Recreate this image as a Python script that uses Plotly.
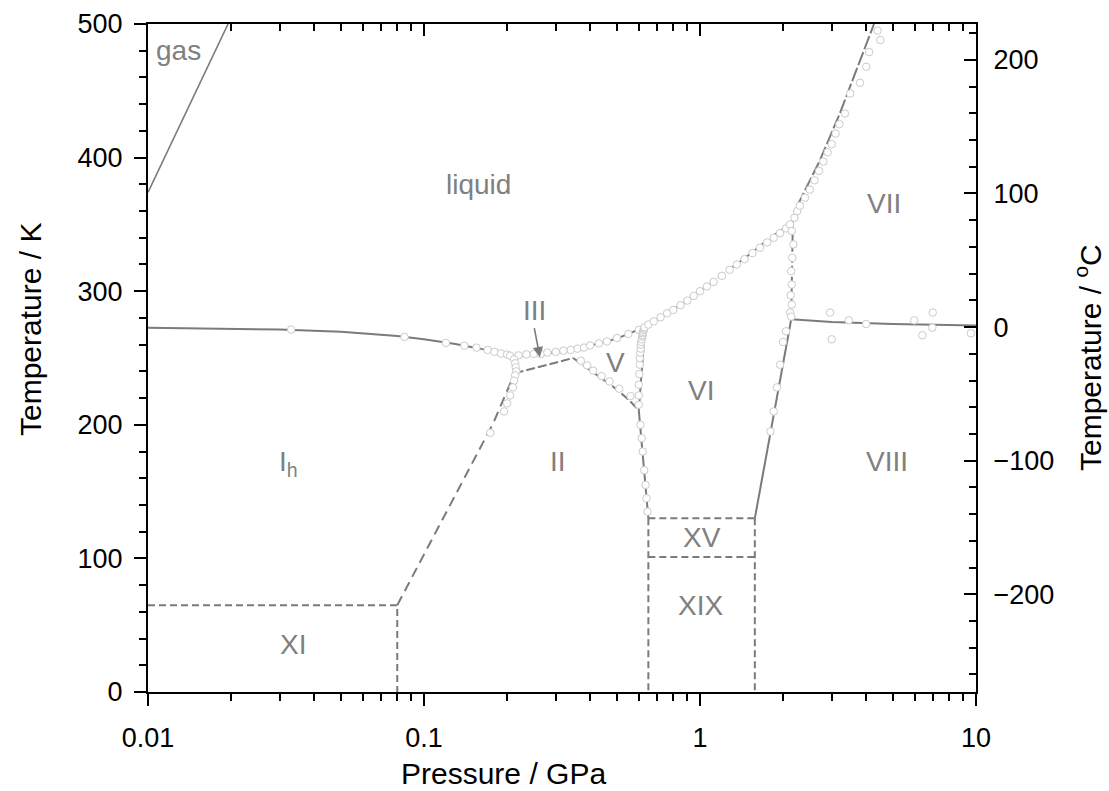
import numpy as np
import plotly.graph_objects as go

# ---------------- phase boundary lines (P in GPa, T in K) ----------------
gas_P = [0.01, 0.0195]
gas_T = [374, 500]

ih_liq_P = [0.01, 0.03, 0.05, 0.08, 0.1, 0.13, 0.16, 0.19, 0.2099]
ih_liq_T = [272.7, 271.3, 269.6, 266.5, 264.0, 260.5, 257.0, 253.5, 251.2]

iii_liq_P = [0.2099, 0.25, 0.3, 0.3501]
iii_liq_T = [251.2, 252.6, 254.3, 256.2]

v_liq_P = [0.3501, 0.4, 0.5, 0.6324]
v_liq_T = [256.2, 259.2, 264.5, 273.3]

vi_liq_P = [0.6324, 0.8, 1.0, 1.25, 1.5, 1.8, 2.17]
vi_liq_T = [273.3, 286, 300, 315, 327, 340, 352]

vii_liq_P = [2.17, 2.24, 2.72, 3.21, 4.27]
vii_liq_T = [352, 363, 398, 433, 500]

vi_vii_P = [2.17, 2.14]
vi_vii_T = [352, 279]

vii_viii_P = [2.14, 3.0, 5.0, 10.0]
vii_viii_T = [279, 277, 275.5, 274.4]

vi_viii_P = [2.14, 1.58]
vi_viii_T = [279, 130]

ih_iii_P = [0.2099, 0.213]
ih_iii_T = [251.2, 238.5]

ii_iii_P = [0.213, 0.347]
ii_iii_T = [238.5, 250.0]

ii_v_P = [0.347, 0.40, 0.434, 0.485, 0.55, 0.60]
ii_v_T = [250.0, 241.0, 236.0, 228.5, 219.0, 211.0]

v_vi_P = [0.60, 0.6324]
v_vi_T = [211.0, 273.3]

ii_vi_P = [0.60, 0.65]
ii_vi_T = [211.0, 130.0]

ih_ii_P = [0.08, 0.178, 0.213]
ih_ii_T = [65, 201, 238.5]

xi_P = [0.01, 0.08, 0.08]
xi_T = [65, 65, 0]

xv_top_P = [0.65, 1.58]
xv_top_T = [130, 130]
xv_mid_P = [0.65, 1.58]
xv_mid_T = [101, 101]
xv_left_P = [0.65, 0.65]
xv_left_T = [130, 0]
xv_right_P = [1.58, 1.58]
xv_right_T = [130, 0]

# ---------------- experimental points (open circles) ----------------
exp_P = [
    0.033, 0.085, 0.12, 0.14, 0.155, 0.17, 0.18, 0.19, 0.2, 0.205,
    0.22, 0.235, 0.25, 0.265, 0.28, 0.30, 0.32, 0.34,
    0.36, 0.38, 0.40, 0.43, 0.46, 0.50, 0.55, 0.60,
    0.37, 0.39, 0.41, 0.44, 0.47, 0.51, 0.56,
    0.60, 0.60, 0.60, 0.603, 0.605, 0.605, 0.607, 0.61, 0.61, 0.612, 0.615,
    0.618, 0.62, 0.62, 0.622, 0.625, 0.627, 0.63,
    0.608, 0.615, 0.62, 0.628, 0.635, 0.64, 0.645,
    0.65, 0.68, 0.72, 0.76, 0.80, 0.85, 0.90, 0.95, 1.0, 1.06, 1.12, 1.2,
    1.28, 1.36, 1.45, 1.55, 1.65, 1.75, 1.85, 1.95, 2.05, 2.12,
    2.2, 2.25, 2.3, 2.4, 2.5, 2.6, 2.7, 2.8, 2.9, 3.0, 3.1, 3.2, 3.35,
    3.5, 3.8, 4.0, 4.1, 4.4, 4.5,
    2.15, 2.18, 2.16, 2.14, 2.15, 2.13, 2.15, 2.12, 2.14,
    2.05, 2.0, 1.95, 1.9, 1.85, 1.8,
    2.96, 3.0, 3.46, 4.0, 5.97, 6.97, 6.39, 6.95, 9.58,
    0.212, 0.214, 0.215, 0.216, 0.214, 0.212, 0.21, 0.205, 0.2, 0.195, 0.174,
]
exp_T = [
    271.3, 265.8, 261.3, 259.2, 257.8, 256.0, 254.6, 253.4, 252.6, 251.8,
    252.0, 252.7, 253.1, 253.0, 254.1, 254.6, 255.5, 256.0,
    257.0, 257.8, 259.4, 261.0, 262.4, 265.0, 268.0, 271.0,
    248.0, 244.5, 240.5, 236.5, 232.5, 227.0, 221.5,
    215, 222, 230, 238, 245, 250, 254, 257, 260, 262, 264,
    266, 267, 268.5, 269.5, 271, 272, 273,
    200, 190, 180, 166, 155, 145, 135,
    275, 277.5, 280.5, 283.5, 286, 289.5, 293, 296.5, 300, 303.5, 307, 311.5,
    316, 320, 324, 328.5, 332.5, 336.5, 340, 343.5, 347, 350,
    355, 360, 364, 370, 376, 383, 390, 397, 404, 410, 418, 425, 433,
    448, 456, 468, 479, 495, 488,
    345, 335, 325, 315, 305, 297, 290, 284, 281,
    270, 262, 245, 228, 210, 195,
    284, 264, 278.2, 275.4, 278.2, 284, 267, 272.7, 268.5,
    249, 246, 243, 240, 237, 233, 228, 222, 216, 210, 194,
]

# ---------------- labels ----------------
label_text = ["gas", "liquid", "III", "V", "VI", "VII", "I<sub>h</sub>", "II",
              "VIII", "XV", "XIX", "XI"]
label_P = [0.01285, 0.158, 0.2504, 0.496, 1.008, 4.64, 0.0324, 0.306,
           4.76, 1.017, 1.008, 0.0335]
label_T = [480.5, 380.2, 285.9, 247, 226, 366, 171.4, 172.9,
           172.9, 115.3, 65.1, 35.2]

arrow_tip = (0.263, 250.5)
arrow_tail = (0.2504, 273.5)

x_ticks = [0.01, 0.1, 1, 10]
x_ticktext = ["0.01", "0.1", "1", "10"]
x_minor = [m * 10.0 ** e for e in (-2, -1, 0) for m in range(2, 10)]

x_title = "Pressure / GPa"
y_title = "Temperature / K"
y2_title = "Temperature / <sup>o</sup>C"

LINE = "#7b7b7b"
TEXT = "#808080"
FONT = "Liberation Sans, Arial, sans-serif"
DASH = "7px,4px"

# plot-area geometry (pixels) used to place the axis titles
L, R, TOP, BOT = 148, 976, 24, 692

fig = go.Figure()


def add_line(P, T, dash="solid", width=2.0):
    fig.add_trace(go.Scatter(x=P, y=T, mode="lines",
                             line=dict(color=LINE, width=width, dash=dash),
                             showlegend=False, hoverinfo="skip"))


add_line(gas_P, gas_T, width=1.6)
add_line(ih_liq_P, ih_liq_T)
add_line(iii_liq_P, iii_liq_T)
add_line(v_liq_P, v_liq_T)
add_line(vi_liq_P, vi_liq_T, dash="8px,3px")
add_line(vii_liq_P, vii_liq_T, dash="14px,3px")
add_line(vi_vii_P, vi_vii_T, dash="8px,3px")
add_line(vii_viii_P, vii_viii_T)
add_line(vi_viii_P, vi_viii_T)
add_line(ih_iii_P, ih_iii_T)
add_line(ii_iii_P, ii_iii_T, dash="9px,3px")
add_line(ii_v_P, ii_v_T, dash="9px,3px")
add_line(v_vi_P, v_vi_T)
add_line(ii_vi_P, ii_vi_T)
add_line(ih_ii_P, ih_ii_T, dash="10px,6px")
add_line(xi_P, xi_T, dash=DASH)
add_line(xv_top_P, xv_top_T, dash=DASH)
add_line(xv_mid_P, xv_mid_T, dash=DASH)
add_line(xv_left_P, xv_left_T, dash=DASH)
add_line(xv_right_P, xv_right_T, dash=DASH)

fig.add_trace(go.Scatter(x=exp_P, y=exp_T, mode="markers",
                         marker=dict(symbol="circle", size=7.5, color="white",
                                     line=dict(color="#cbcbcb", width=1)),
                         showlegend=False, hoverinfo="skip"))

# dummy trace to register the mirrored top axis and the right (deg C) axis
fig.add_trace(go.Scatter(x=[None], y=[None], xaxis="x2", yaxis="y2",
                         showlegend=False, hoverinfo="skip"))


def px_to_paper(px, py):
    return (px - L) / (R - L), (BOT - py) / (BOT - TOP)


annotations = []
for t, p, T in zip(label_text, label_P, label_T):
    annotations.append(dict(x=np.log10(p), y=T, xref="x", yref="y", text=t,
                            showarrow=False,
                            font=dict(family=FONT, size=28, color=TEXT)))
annotations.append(dict(x=np.log10(arrow_tip[0]), y=arrow_tip[1],
                        ax=np.log10(arrow_tail[0]), ay=arrow_tail[1],
                        xref="x", yref="y", axref="x", ayref="y", text="",
                        showarrow=True, arrowhead=2, arrowsize=1.3,
                        arrowwidth=1.6, arrowcolor=LINE))
# axis titles (placed as in the reference)
for txt, (px, py), ang in [(x_title, (503, 773), 0),
                           (y_title, (30, 330), -90),
                           (y2_title, (1088, 358), -90)]:
    xp, yp = px_to_paper(px, py)
    annotations.append(dict(x=xp, y=yp, xref="paper", yref="paper",
                            text=txt, showarrow=False, textangle=ang,
                            xanchor="center", yanchor="middle",
                            font=dict(family=FONT, size=30, color="black")))

common = dict(showgrid=False, zeroline=False, automargin=False,
              showline=True, linewidth=2, linecolor="black",
              tickwidth=2, tickcolor="black", ticklen=12)

fig.update_layout(
    width=1109, height=791,
    margin=dict(l=L, r=1109 - R, t=TOP, b=791 - BOT, pad=0),
    paper_bgcolor="white", plot_bgcolor="white",
    font=dict(family=FONT, color="black"),
    annotations=annotations,
    xaxis=dict(type="log", range=[-2, 1], tickvals=x_ticks, ticktext=x_ticktext,
               ticks="outside", tickfont=dict(size=27),
               minor=dict(tickvals=x_minor, ticks="outside", ticklen=7,
                          tickwidth=2, tickcolor="black", showgrid=False),
               ticklabelstandoff=9, **common),
    xaxis2=dict(type="log", range=[-2, 1], overlaying="x", side="top",
                anchor="y", tickvals=x_ticks, showticklabels=False,
                ticks="inside",
                minor=dict(tickvals=x_minor, ticks="inside", ticklen=7,
                           tickwidth=2, tickcolor="black", showgrid=False),
                **common),
    yaxis=dict(range=[0, 500], dtick=100, tick0=0,
               ticks="outside", tickfont=dict(size=27),
               minor=dict(dtick=20, tick0=0, ticks="outside", ticklen=7,
                          tickwidth=2, tickcolor="black", showgrid=False),
               ticklabelstandoff=6, **common),
    yaxis2=dict(range=[-273.15, 226.85], overlaying="y", side="right",
                anchor="x", tickvals=[-200, -100, 0, 100, 200],
                ticks="inside", tickfont=dict(size=27),
                minor=dict(dtick=20, tick0=0, ticks="inside", ticklen=7,
                           tickwidth=2, tickcolor="black", showgrid=False),
                ticklabelstandoff=10, **common),
)

fig.write_html("out.html")
